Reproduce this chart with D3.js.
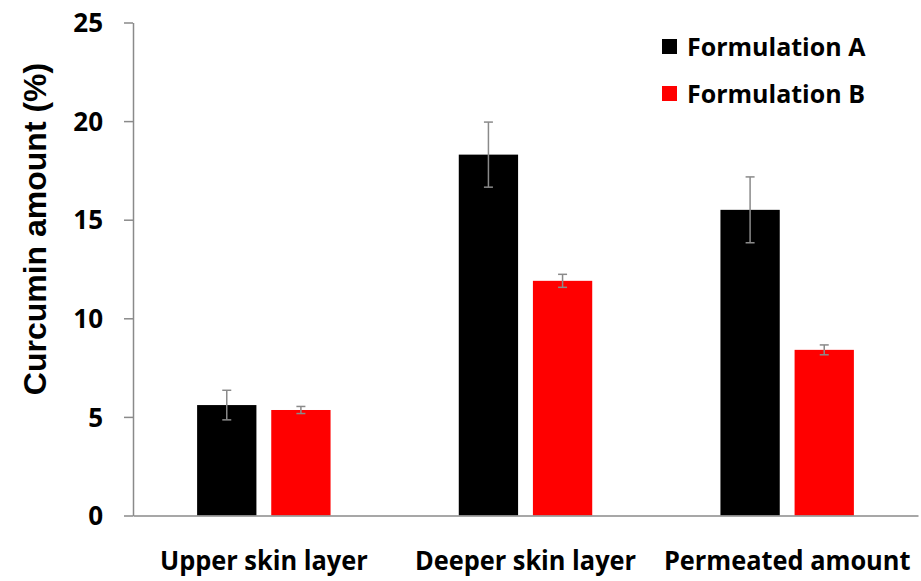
<!DOCTYPE html>
<html>
<head>
<meta charset="utf-8">
<script src="https://cdn.jsdelivr.net/npm/d3@7"></script>
<style>
  html, body { margin: 0; padding: 0; background: #fff; }
  svg { display: block; }
  text { font-family: "Open Sans", "Liberation Sans", sans-serif; font-weight: bold; fill: #000; }
</style>
</head>
<body>
<svg id="chart" width="921" height="581"></svg>
<script>
// Curcumin amount (%) per skin compartment, two formulations, with error bars
const categories = ["Upper skin layer", "Deeper skin layer", "Permeated amount"];
const seriesNames = ["Formulation A", "Formulation B"];
const seriesColors = ["#000000", "#ff0000"];
const valuesA = [5.6, 18.3, 15.5];
const valuesB = [5.35, 11.9, 8.4];
const errorsA = [0.75, 1.65, 1.67];
const errorsB = [0.18, 0.33, 0.25];
const yTicks = [0, 5, 10, 15, 20, 25];

const rows = categories.map((c, i) => ({
  category: c,
  bars: [
    { series: 0, value: valuesA[i], err: errorsA[i] },
    { series: 1, value: valuesB[i], err: errorsB[i] }
  ]
}));

const svg = d3.select("#chart");
const margin = { left: 133, right: 3, top: 22.5, bottom: 65.5 };
const W = 921, H = 581;

const x = d3.scaleBand().domain(categories)
  .range([margin.left, W - margin.right]).paddingInner(0.49).paddingOuter(0.245);
const xInner = d3.scaleBand().domain([0, 1]).range([0, x.bandwidth()]).paddingInner(0.2);
const y = d3.scaleLinear().domain([0, 25]).range([H - margin.bottom, margin.top]);

// bars
const groups = svg.append("g").selectAll("g").data(rows).join("g")
  .attr("transform", d => `translate(${x(d.category)},0)`);

groups.selectAll("rect").data(d => d.bars).join("rect")
  .attr("x", d => xInner(d.series))
  .attr("width", xInner.bandwidth())
  .attr("y", d => y(d.value))
  .attr("height", d => y(0) - y(d.value))
  .attr("fill", d => seriesColors[d.series]);

// error bars
const eb = groups.selectAll("g.err").data(d => d.bars).join("g").attr("class", "err")
  .attr("transform", d => `translate(${xInner(d.series) + xInner.bandwidth() / 2},0)`)
  .attr("stroke", "#8a8a8a").attr("stroke-width", 1.5);
eb.append("line").attr("y1", d => y(d.value + d.err)).attr("y2", d => y(d.value - d.err));
eb.append("line").attr("x1", -4.5).attr("x2", 4.5)
  .attr("y1", d => y(d.value + d.err)).attr("y2", d => y(d.value + d.err));
eb.append("line").attr("x1", -4.5).attr("x2", 4.5)
  .attr("y1", d => y(d.value - d.err)).attr("y2", d => y(d.value - d.err));

// y axis
const yAxis = svg.append("g").attr("transform", `translate(${margin.left},0)`)
  .call(d3.axisLeft(y).tickValues(yTicks).tickSize(9).tickPadding(21).tickSizeOuter(0));
yAxis.select(".domain").attr("stroke", "#8a8a8a").attr("stroke-width", 1.5);
yAxis.selectAll(".tick line").attr("stroke", "#8a8a8a").attr("stroke-width", 1.5);
yAxis.selectAll(".tick text").attr("font-size", 26).attr("font-family", null)
  .attr("dy", "0.35em");

// x axis line and category labels (slightly condensed)
const xAxis = svg.append("g").attr("transform", `translate(0,${y(0)})`)
  .call(d3.axisBottom(x).tickSize(0).tickPadding(0).tickSizeOuter(0));
xAxis.select(".domain").attr("stroke", "#8a8a8a").attr("stroke-width", 1.5);
xAxis.selectAll(".tick text").attr("font-size", 27).attr("font-family", null)
  .attr("dy", null).attr("y", 0)
  .attr("transform", "translate(0,54) scale(0.94,1)");

// y title
svg.append("text")
  .attr("transform", `translate(46,229) rotate(-90)`)
  .attr("text-anchor", "middle")
  .attr("font-size", 32)
  .style("font-family", "'Liberation Sans', Arial, sans-serif")
  .text("Curcumin amount (%)");

// legend
const legend = svg.append("g").selectAll("g").data(seriesNames).join("g")
  .attr("transform", (d, i) => `translate(662,${39 + i * 47})`);
legend.append("rect").attr("width", 15).attr("height", 15)
  .attr("fill", (d, i) => seriesColors[i]);
legend.append("text").attr("x", 25).attr("y", 7.5).attr("dy", "0.36em")
  .attr("font-size", 25).text(d => d);
</script>
</body>
</html>
